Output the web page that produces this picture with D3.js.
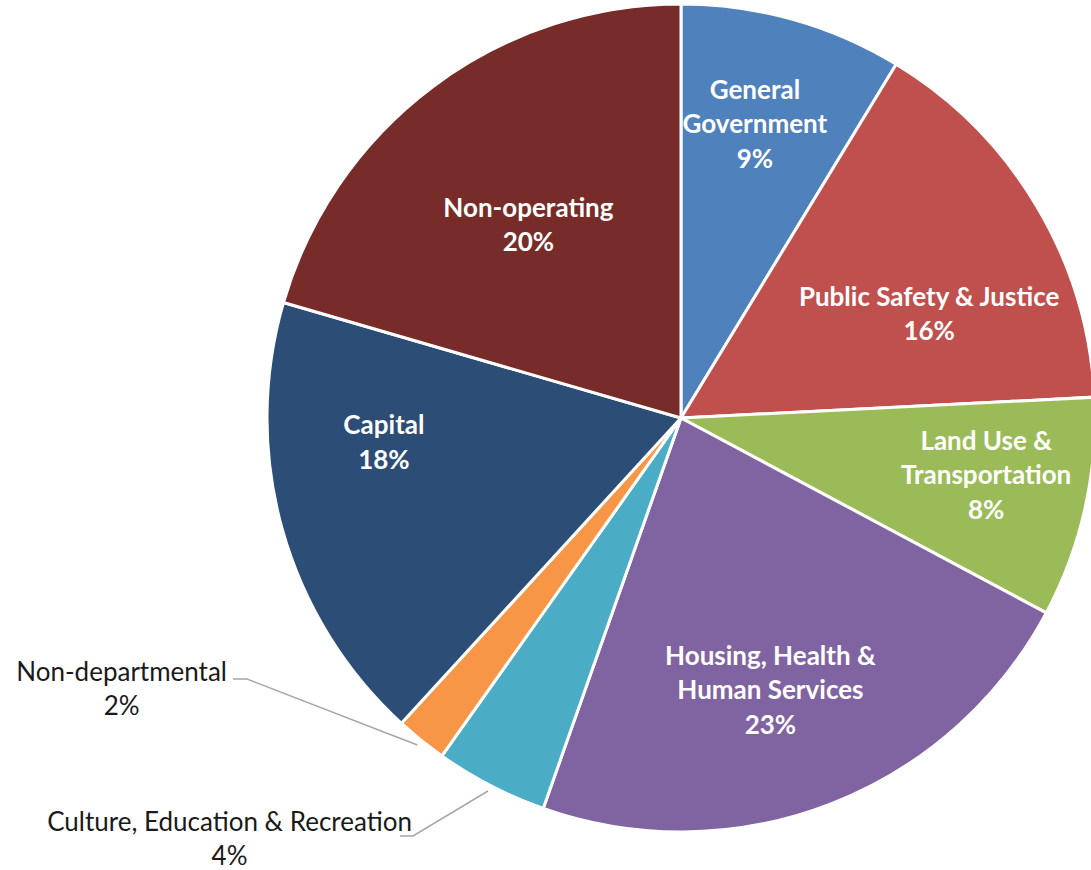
<!DOCTYPE html>
<html lang="en">
<head>
<meta charset="UTF-8">
<title>Budget by service area</title>
<script src="https://cdnjs.cloudflare.com/ajax/libs/d3/7.8.5/d3.min.js"></script>
<style>
  body { margin: 0; background: #fff; }
  svg { display: block; }
  .inside { fill: #fff; font-family: Lato, sans-serif; font-weight: bold; font-size: 26px; }
  .outside { fill: #1a1a1a; font-family: Lato, sans-serif; font-size: 26px; }
</style>
</head>
<body>
<svg width="1091" height="870"></svg>
<script>
// clockwise from 12 o'clock
var categories = ["General Government", "Public Safety & Justice", "Land Use & Transportation",
                  "Housing, Health & Human Services", "Culture, Education & Recreation",
                  "Non-departmental", "Capital", "Non-operating"];
var shares = [8.7, 15.5, 8.6, 22.6, 4.4, 2.0, 17.7, 20.5];
var pctLabels = ["9%", "16%", "8%", "23%", "4%", "2%", "18%", "20%"];
var labelLines = [["General", "Government"], ["Public Safety & Justice"], ["Land Use &", "Transportation"],
                  ["Housing, Health &", "Human Services"], ["Culture, Education & Recreation"],
                  ["Non-departmental"], ["Capital"], ["Non-operating"]];
var colors = ["#4F81BD", "#C0504D", "#9BBB59", "#8064A2", "#4BACC6", "#F79646", "#2C4D75", "#772C2A"];

var cx = 681, cy = 418, radius = 414, lineH = 34.5;

// inside label placement: [angle offset (deg), radius fraction, dy]
var inside = { 0: [-1.5, 0.73, -1], 1: [8, 0.65, 0], 2: [-2, 0.75, 0], 3: [3, 0.69, 1], 6: [11, 0.72, 0], 7: [-1, 0.6, 3] };
// outside labels, relative to centre: [text end x, first line y, elbow x0, elbow x1, elbow y]
var outside = { 5: [-454, 254, -448, -434, 261], 4: [-269, 404, -281, -268, 418] };

var svg = d3.select("svg");
var g = svg.append("g").attr("transform", "translate(" + cx + "," + cy + ")");

var data = categories.map(function (c, i) { return { name: c, value: shares[i], i: i }; });

var pie = d3.pie().sort(null).value(function (d) { return d.value; });
var arc = d3.arc().innerRadius(0).outerRadius(radius);
var arcs = pie(data);

g.selectAll("path.slice")
    .data(arcs)
    .enter().append("path")
    .attr("class", "slice")
    .attr("d", arc)
    .attr("fill", function (d) { return colors[d.data.i]; })
    .attr("stroke", "#fff")
    .attr("stroke-width", 3)
    .attr("stroke-linejoin", "round");

function polar(angle, r) {
    return [r * Math.sin(angle), -r * Math.cos(angle)];
}

arcs.forEach(function (d) {
    var i = d.data.i;
    var lines = labelLines[i].concat([pctLabels[i]]);
    var mid = (d.startAngle + d.endAngle) / 2;
    if (inside[i]) {
        var p = inside[i];
        var pt = polar(mid + p[0] * Math.PI / 180, radius * p[1]);
        var t = g.append("text").attr("class", "inside").attr("text-anchor", "middle");
        lines.forEach(function (ln, k) {
            t.append("tspan")
                .attr("x", pt[0])
                .attr("y", pt[1] + p[2] + (k - (lines.length - 1) / 2) * lineH)
                .attr("dy", "0.35em")
                .text(ln);
        });
    } else {
        var o = outside[i];
        var edge = polar(mid, radius + 6);
        var t2 = g.append("text").attr("class", "outside");
        t2.append("tspan").attr("x", o[0]).attr("y", o[1]).attr("dy", "0.35em")
            .attr("text-anchor", "end").text(lines[0]);
        var w = t2.select("tspan").node().getComputedTextLength();
        t2.append("tspan").attr("x", o[0] - w / 2).attr("y", o[1] + lineH - 1).attr("dy", "0.35em")
            .attr("text-anchor", "middle").text(lines[1]);
        g.append("polyline")
            .attr("points", [[o[2], o[4]], [o[3], o[4]], edge].map(function (q) { return q.join(","); }).join(" "))
            .attr("fill", "none")
            .attr("stroke", "#A6A6A6")
            .attr("stroke-width", 1.5);
    }
});
</script>
</body>
</html>
